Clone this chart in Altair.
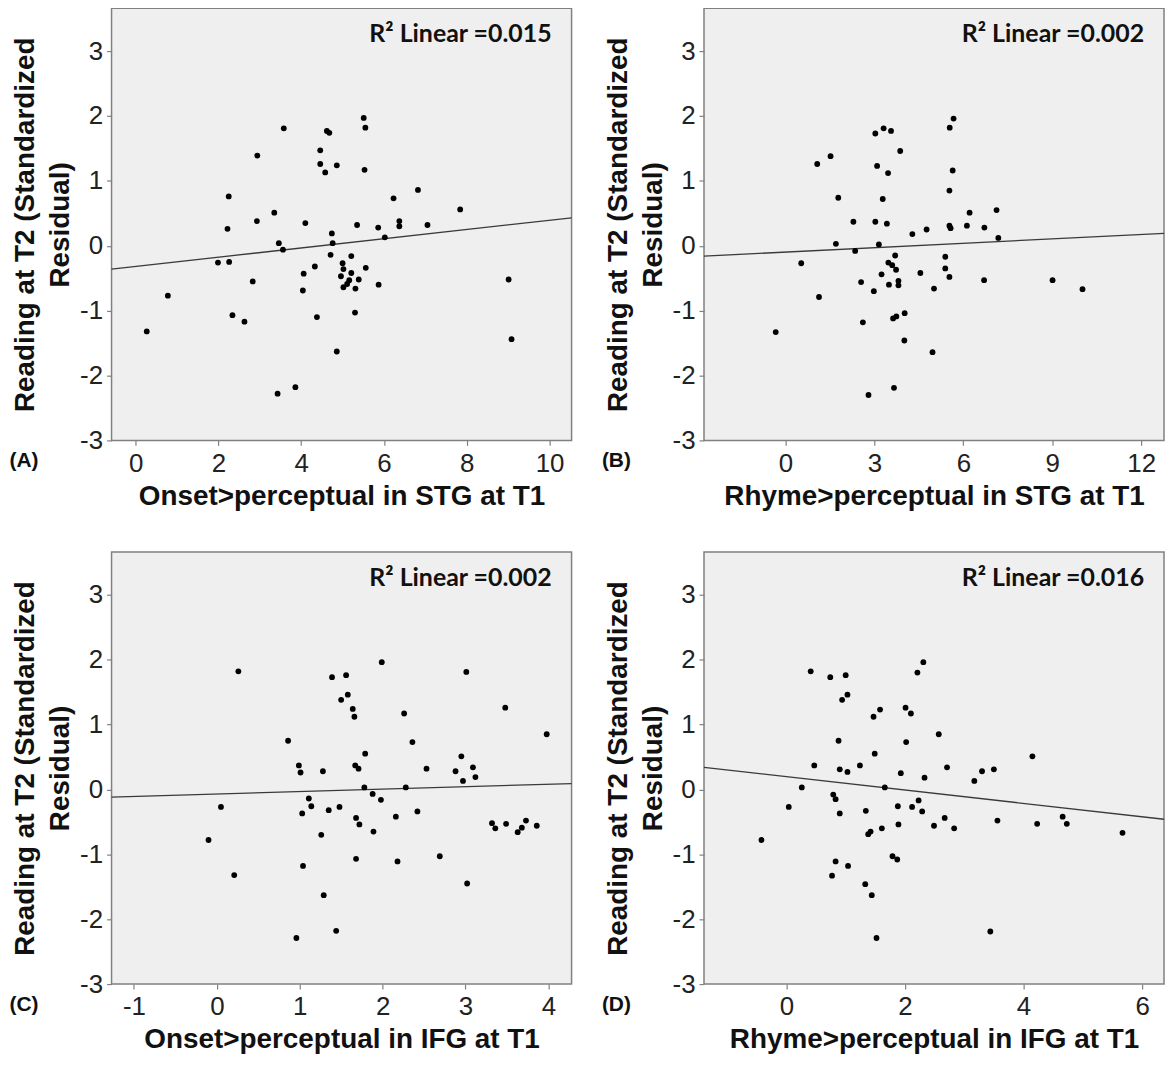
import altair as alt
import pandas as pd

W, H = 462, 434

y_ticks = [-3, -2, -1, 0, 1, 2, 3]
y_domain = [-3, 3.66]
y_title = ["Reading at T2 (Standardized", "Residual)"]

# Panel A: Onset>perceptual in STG at T1
a_x = [3.58, 4.62, 4.68, 2.94, 4.46, 4.46, 4.86, 4.58, 2.25, 3.35, 2.93, 4.10, 2.22, 4.74, 3.46, 4.76,
       3.56, 4.71, 1.99, 2.26, 5.00, 4.33, 5.02, 4.06, 4.96, 2.83, 5.02, 4.04, 0.78, 2.34, 2.63, 4.38,
       0.27, 4.86, 3.86, 3.43, 5.51, 5.55, 5.53, 6.82, 6.23, 7.84, 6.37, 6.37, 5.35, 5.86, 7.05, 6.02,
       5.21, 5.56, 5.21, 5.16, 5.39, 5.11, 5.31, 5.87, 5.30, 9.01, 9.08]
a_y = [1.81, 1.77, 1.74, 1.39, 1.47, 1.26, 1.24, 1.13, 0.76, 0.51, 0.38, 0.35, 0.26, 0.19, 0.04, 0.04,
       -0.06, -0.14, -0.26, -0.25, -0.27, -0.32, -0.36, -0.43, -0.47, -0.55, -0.64, -0.69, -0.77, -1.07, -1.17, -1.10,
       -1.32, -1.63, -2.18, -2.28, 1.97, 1.82, 1.17, 0.86, 0.73, 0.56, 0.38, 0.30, 0.32, 0.28, 0.32, 0.13,
       -0.16, -0.34, -0.42, -0.53, -0.52, -0.59, -0.66, -0.60, -1.03, -0.52, -1.44]
a_fit_x = [-0.58, 10.53]
a_fit_y = [-0.36, 0.43]
a_domain = [-0.58, 10.53]
a_xticks = [0, 2, 4, 6, 8, 10]

# Panel B: Rhyme>perceptual in STG at T1
b_x = [3.31, 3.03, 3.56, 3.87, 1.52, 1.07, 3.09, 3.46, 1.78, 3.28, 2.29, 3.03, 3.42, 4.28, 1.70, 3.15,
       2.35, 3.70, 0.53, 3.47, 3.60, 3.73, 4.55, 3.24, 2.55, 3.81, 3.49, 3.81, 2.98, 1.13, 4.02, 3.63,
       3.74, 2.61, 4.01, -0.33, 3.66, 2.80, 5.67, 5.54, 5.64, 5.53, 7.12, 6.21, 5.53, 5.57, 6.12, 6.71,
       4.76, 7.18, 5.39, 5.39, 5.53, 5.01, 6.70, 9.01, 10.02, 4.96]
b_y = [1.81, 1.73, 1.77, 1.46, 1.38, 1.26, 1.23, 1.12, 0.74, 0.72, 0.37, 0.37, 0.34, 0.18, 0.03, 0.02,
       -0.08, -0.15, -0.27, -0.26, -0.30, -0.37, -0.42, -0.44, -0.56, -0.54, -0.60, -0.61, -0.70, -0.79, -1.04, -1.12,
       -1.09, -1.18, -1.46, -1.33, -2.19, -2.30, 1.96, 1.82, 1.16, 0.85, 0.55, 0.51, 0.31, 0.27, 0.31, 0.28,
       0.25, 0.12, -0.17, -0.35, -0.48, -0.66, -0.53, -0.53, -0.67, -1.64]
b_fit_x = [-2.75, 12.77]
b_fit_y = [-0.16, 0.19]
b_domain = [-2.75, 12.77]
b_xticks = [0, 3, 6, 9, 12]

# Panel C: Onset>perceptual in IFG at T1
c_x = [0.26, 1.39, 1.50, 0.86, 0.99, 1.01, 1.28, 1.11, 1.14, 0.05, 1.03, 1.35, 1.48, -0.10, 1.26, 0.21,
       1.04, 1.29, 1.44, 0.96, 1.99, 3.01, 1.56, 1.58, 1.64, 1.66, 2.26, 3.48, 3.98, 2.36, 1.79, 2.95,
       1.67, 1.71, 2.53, 2.88, 3.09, 3.12, 2.97, 1.78, 2.28, 1.88, 1.98, 2.42, 2.16, 1.68, 1.72, 1.89,
       3.32, 3.36, 3.49, 3.73, 3.68, 3.63, 3.86, 1.68, 2.18, 2.69, 3.02]
c_y = [1.82, 1.73, 1.38, 0.75, 0.37, 0.26, 0.28, -0.14, -0.26, -0.27, -0.37, -0.32, -0.27, -0.78, -0.70, -1.32,
       -1.18, -1.63, -2.18, -2.29, 1.96, 1.81, 1.76, 1.46, 1.24, 1.12, 1.17, 1.26, 0.85, 0.73, 0.55, 0.51,
       0.37, 0.32, 0.32, 0.28, 0.34, 0.19, 0.13, 0.03, 0.03, -0.07, -0.16, -0.34, -0.42, -0.44, -0.54, -0.65,
       -0.52, -0.60, -0.53, -0.48, -0.59, -0.66, -0.56, -1.07, -1.11, -1.03, -1.45]
c_fit_x = [-1.27, 4.28]
c_fit_y = [-0.12, 0.09]
c_domain = [-1.27, 4.28]
c_xticks = [-1, 0, 1, 2, 3, 4]

# Panel D: Rhyme>perceptual in IFG at T1
d_x = [0.41, 0.74, 1.00, 1.03, 0.94, 2.31, 2.21, 1.58, 1.47, 2.01, 2.10, 0.88, 2.02, 1.49, 0.47, 1.24,
       0.90, 1.03, 1.93, 2.33, 0.26, 1.66, 0.79, 0.83, 0.04, 1.88, 2.12, 2.23, 2.29, 1.34, 0.90, 1.89,
       1.61, 1.42, 1.38, -0.42, 1.79, 1.87, 0.83, 1.04, 0.77, 1.33, 1.44, 1.52, 2.57, 4.15, 2.71, 3.17,
       3.30, 3.50, 2.49, 2.67, 2.83, 3.56, 4.23, 4.66, 4.73, 5.67, 3.44]
d_y = [1.82, 1.73, 1.76, 1.46, 1.38, 1.96, 1.80, 1.23, 1.12, 1.26, 1.17, 0.75, 0.73, 0.55, 0.37, 0.37,
       0.31, 0.27, 0.25, 0.18, 0.03, 0.03, -0.08, -0.15, -0.27, -0.26, -0.27, -0.17, -0.34, -0.33, -0.37, -0.54,
       -0.60, -0.65, -0.69, -0.78, -1.03, -1.08, -1.11, -1.18, -1.33, -1.46, -1.63, -2.29, 0.85, 0.51, 0.34, 0.13,
       0.28, 0.31, -0.56, -0.44, -0.60, -0.48, -0.53, -0.42, -0.53, -0.67, -2.19]
d_fit_x = [-1.39, 6.37]
d_fit_y = [0.34, -0.46]
d_domain = [-1.39, 6.37]
d_xticks = [0, 2, 4, 6]

x_titles = ["Onset>perceptual in STG at T1", "Rhyme>perceptual in STG at T1",
            "Onset>perceptual in IFG at T1", "Rhyme>perceptual in IFG at T1"]
r2_labels = ["R\u00b2 Linear =0.015", "R\u00b2 Linear =0.002", "R\u00b2 Linear =0.002", "R\u00b2 Linear =0.016"]
letters = ["(A)", "(B)", "(C)", "(D)"]

LABEL_FONT = "Liberation Sans"
HYPHEN_LABEL = "'' + datum.value"


def panel(xs, ys, fx, fy, xdom, xticks, xtitle, r2, letter):
    pts = pd.DataFrame({"x": xs, "y": ys})
    fit = pd.DataFrame({"x": fx, "y": fy})
    xsc = alt.Scale(domain=xdom, nice=False, zero=False)
    ysc = alt.Scale(domain=y_domain, nice=False, zero=False)
    xax = alt.Axis(values=xticks, title=xtitle, labelExpr=HYPHEN_LABEL)
    yax = alt.Axis(values=y_ticks, title=y_title, labelExpr=HYPHEN_LABEL)
    line = alt.Chart(fit).mark_line(color="#3a3a3a", strokeWidth=1.3).encode(
        x=alt.X("x:Q", scale=xsc, axis=xax),
        y=alt.Y("y:Q", scale=ysc, axis=yax),
    )
    points = alt.Chart(pts).mark_circle(size=34, color="black", opacity=1).encode(
        x=alt.X("x:Q", scale=xsc, axis=xax),
        y=alt.Y("y:Q", scale=ysc, axis=yax),
    )
    r2txt = alt.Chart(pd.DataFrame({"t": [r2]})).mark_text(
        align="right", baseline="alphabetic", font="Lato", fontWeight="bold", fontSize=25, color="#111"
    ).encode(x=alt.value(W - 20), y=alt.value(34), text="t:N")
    lettxt = alt.Chart(pd.DataFrame({"t": [letter]})).mark_text(
        align="center", baseline="middle", font=LABEL_FONT, fontWeight="bold", fontSize=21, color="#111"
    ).encode(x=alt.value(-88), y=alt.value(H + 21), text="t:N")
    return alt.layer(line, points, r2txt, lettxt).properties(width=W, height=H)


pA = panel(a_x, a_y, a_fit_x, a_fit_y, a_domain, a_xticks, x_titles[0], r2_labels[0], letters[0])
pB = panel(b_x, b_y, b_fit_x, b_fit_y, b_domain, b_xticks, x_titles[1], r2_labels[1], letters[1])
pC = panel(c_x, c_y, c_fit_x, c_fit_y, c_domain, c_xticks, x_titles[2], r2_labels[2], letters[2])
pD = panel(d_x, d_y, d_fit_x, d_fit_y, d_domain, d_xticks, x_titles[3], r2_labels[3], letters[3])

top = alt.hconcat(pA, pB, spacing=25)
bottom = alt.hconcat(pC, pD, spacing=25)

chart = alt.vconcat(top, bottom, spacing=40).properties(
    padding={"left": 0, "top": -3, "right": 0, "bottom": 0}, background="white"
).configure_view(
    stroke="#808080", strokeWidth=1.5, fill="#efefef"
).configure_axis(
    domain=False, grid=False, ticks=True, tickSize=5, tickColor="#808080", tickWidth=1.2,
    labelFont=LABEL_FONT, labelFontSize=26, labelColor="#222", labelPadding=4,
    titleFont=LABEL_FONT, titleFontSize=28, titleFontWeight="bold", titleColor="#111",
    titleLineHeight=35
).configure_axisX(
    labelPadding=5, titlePadding=6
).configure_axisY(
    titlePadding=5
)

chart.save("out.html", embed_options={"renderer": "svg", "actions": False})
